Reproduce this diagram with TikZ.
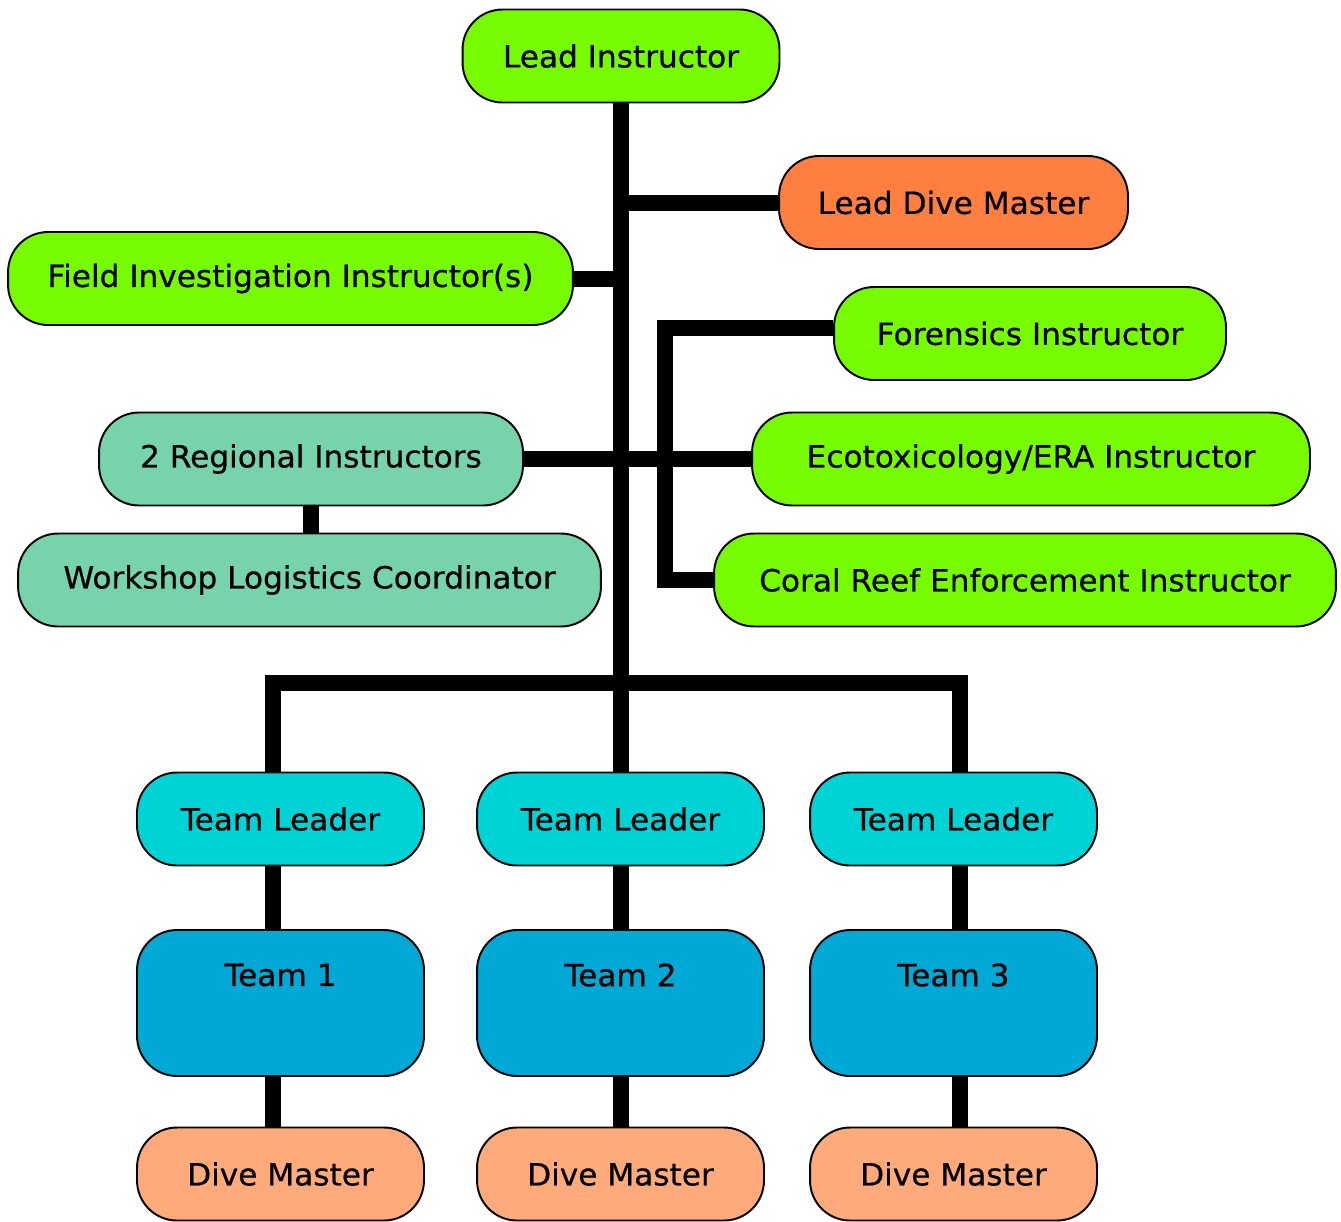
\documentclass[tikz,border=0pt]{standalone}
\usepackage{fontspec}
\setmainfont{DejaVu Sans}[FakeStretch=1.02, FakeBold=0.6]
\usetikzlibrary{positioning}

\definecolor{limegreen}{HTML}{77FB00}
\definecolor{diveorange}{HTML}{FF7F40}
\definecolor{regiongreen}{HTML}{77D3AB}
\definecolor{leadercyan}{HTML}{00D3D6}
\definecolor{teamblue}{HTML}{00A8D5}
\definecolor{masterorange}{HTML}{FFAA7A}

\tikzset{
  box/.style={draw, line width=1.1pt, rounded corners=0.8cm, inner sep=0pt,
    minimum height=1.86cm, font=\fontsize{17.4}{20}\selectfont},
  teambox/.style={box, fill=teamblue, minimum width=5.74cm, minimum height=2.92cm,
    label={[font=\fontsize{17.4}{20}\selectfont, anchor=center, yshift=-0.92cm]north:#1}},
  link/.style={line width=0.32cm, line cap=butt, line join=miter},
}

\begin{document}
\begin{tikzpicture}[x=0.02cm, y=-0.02cm]
\useasboundingbox (0,0) rectangle (1341,1221);

  % top of the chart
  \node[box, fill=limegreen, minimum width=6.34cm] (lead) at (621,56) {Lead Instructor};
  \node[box, fill=diveorange, minimum width=6.98cm] (ldm) at (953.5,202.5) {Lead Dive Master};
  \node[box, fill=limegreen, minimum width=11.3cm] (fii) at (290.5,278.5) {Field Investigation Instructor(s)};
  \node[box, fill=limegreen, minimum width=7.84cm] (for) at (1030,333.5) {Forensics Instructor};
  \node[box, fill=regiongreen, minimum width=8.48cm] (reg) at (311,459) {2 Regional Instructors};
  \node[box, fill=limegreen, minimum width=11.16cm] (eco) at (1031,459) {Ecotoxicology/ERA Instructor};
  \node[box, fill=regiongreen, minimum width=11.66cm] (wlc) at (309.5,580) {Workshop Logistics Coordinator};
  \node[box, fill=limegreen, minimum width=12.44cm] (cre) at (1025,580) {Coral Reef Enforcement Instructor};

  % teams
  \node[box, fill=leadercyan, minimum width=5.74cm] (tl1) at (280.5,819) {Team Leader};
  \node[box, fill=leadercyan, minimum width=5.74cm] (tl2) at (620.5,819) {Team Leader};
  \node[box, fill=leadercyan, minimum width=5.74cm] (tl3) at (953.5,819) {Team Leader};

  \node[teambox=Team 1] (team1) at (280.5,1003) {};
  \node[teambox=Team 2] (team2) at (620.5,1003) {};
  \node[teambox=Team 3] (team3) at (953.5,1003) {};

  \node[box, fill=masterorange, minimum width=5.74cm] (dm1) at (280.5,1174) {Dive Master};
  \node[box, fill=masterorange, minimum width=5.74cm] (dm2) at (620.5,1174) {Dive Master};
  \node[box, fill=masterorange, minimum width=5.74cm] (dm3) at (953.5,1174) {Dive Master};

  % junctions
  \coordinate (bus) at (621,683);
  \coordinate (busL) at (273,683);
  \coordinate (busR) at (960,683);
  \coordinate (brkT) at (665,328);

  % connectors
  \draw[link] (lead.south) -- (bus);
  \draw[link] (bus |- ldm) -- (ldm.west);
  \draw[link] (fii.east) -- (bus |- fii);
  \draw[link] (reg.east) -- (eco.west);
  \draw[link] (reg.south) -- (reg.south |- wlc.north);
  \draw[link] (brkT -| for.west) -- (brkT) |- (cre.west);
  \draw[link, line cap=rect] (busL) -- (busR);
  \draw[link] (busL) -- (busL |- tl1.north);
  \draw[link] (bus) -- (bus |- tl2.north);
  \draw[link] (busR) -- (busR |- tl3.north);
  \foreach \n/\c in {1/busL, 2/bus, 3/busR} {
    \draw[link] (\c |- tl\n.south) -- (\c |- team\n.north);
    \draw[link] (\c |- team\n.south) -- (\c |- dm\n.north);
  }

\end{tikzpicture}
\end{document}
